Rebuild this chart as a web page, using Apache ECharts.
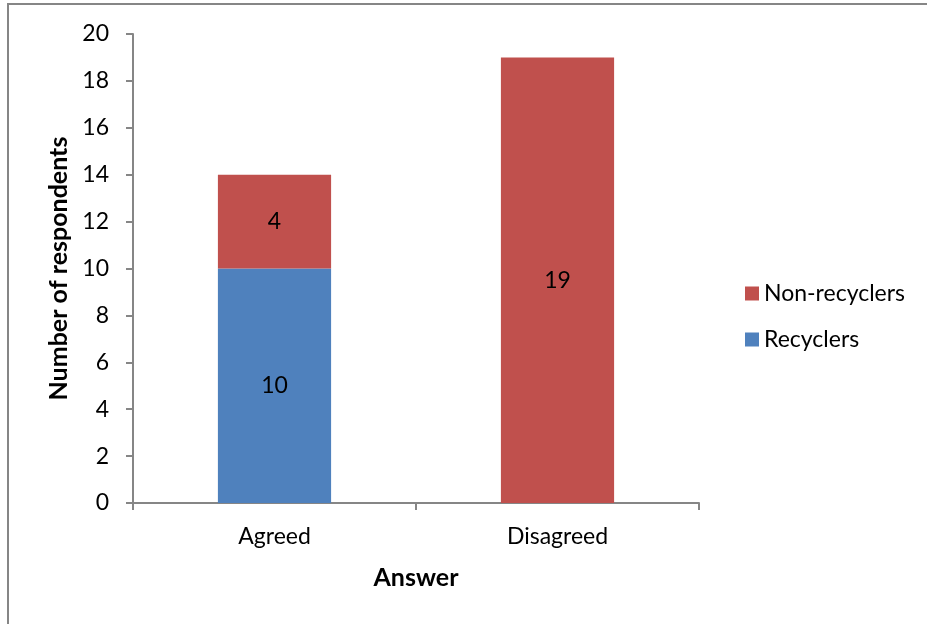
<!DOCTYPE html>
<html>
<head>
<meta charset="utf-8">
<script src="https://cdn.jsdelivr.net/npm/echarts@6/dist/echarts.min.js"></script>
<style>
  html, body { margin: 0; padding: 0; background: #fff; }
  #chart { width: 927px; height: 624px; }
</style>
</head>
<body>
<div id="chart"></div>
<script>
// Responses by group
const categories = ['Agreed', 'Disagreed'];
const recyclers = [10, 0];
const nonRecyclers = [4, 19];
const yTicks = { min: 0, max: 20, interval: 2 };

const FONT = 'Lato, "Open Sans", sans-serif';
const chart = echarts.init(document.getElementById('chart'));

chart.setOption({
  animation: false,
  textStyle: { fontFamily: FONT },
  graphic: [{
    type: 'rect',
    shape: { x: 8, y: 4, width: 1000, height: 1000 },
    style: { fill: 'none', stroke: '#868686', lineWidth: 2 },
    silent: true
  }],
  grid: { left: 133, right: 228, top: 34, bottom: 121, containLabel: false },
  legend: {
    orient: 'vertical',
    left: 740,
    top: 277,
    itemWidth: 14,
    itemHeight: 14,
    itemGap: 23,
    icon: 'rect',
    textStyle: { fontSize: 23, color: '#000', fontFamily: FONT },
    data: ['Non-recyclers', 'Recyclers']
  },
  xAxis: {
    type: 'category',
    data: categories,
    name: 'Answer',
    nameLocation: 'middle',
    nameGap: 62,
    nameTextStyle: { fontSize: 25, fontWeight: 'bold', color: '#000' },
    axisLine: { lineStyle: { color: '#868686', width: 2 } },
    axisTick: { show: true, length: 7, alignWithLabel: false, lineStyle: { color: '#868686', width: 2 } },
    axisLabel: { fontSize: 23, color: '#000', margin: 22 }
  },
  yAxis: {
    type: 'value',
    min: yTicks.min,
    max: yTicks.max,
    interval: yTicks.interval,
    name: 'Number of respondents',
    nameLocation: 'middle',
    nameGap: 62,
    nameTextStyle: { fontSize: 25, fontWeight: 'bold', color: '#000' },
    axisLine: { show: true, lineStyle: { color: '#868686', width: 2 } },
    axisTick: { show: true, length: 7, lineStyle: { color: '#868686', width: 2 } },
    splitLine: { show: false },
    axisLabel: { fontSize: 23, color: '#000', margin: 24 }
  },
  series: [
    {
      name: 'Recyclers',
      type: 'bar',
      stack: 'total',
      barWidth: '40%',
      itemStyle: { color: '#4F81BD' },
      label: {
        show: true, position: 'inside', fontSize: 23, color: '#000',
        formatter: p => (p.value ? p.value : '')
      },
      data: recyclers
    },
    {
      name: 'Non-recyclers',
      type: 'bar',
      stack: 'total',
      barWidth: '40%',
      itemStyle: { color: '#C0504D' },
      label: {
        show: true, position: 'inside', fontSize: 23, color: '#000',
        formatter: p => (p.value ? p.value : '')
      },
      data: nonRecyclers
    }
  ]
});
</script>
</body>
</html>
